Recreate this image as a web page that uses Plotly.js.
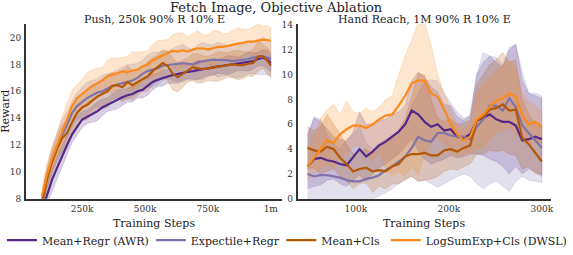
<!DOCTYPE html>
<html>
<head>
<meta charset="utf-8">
<script src="https://cdn.plot.ly/plotly-3.0.1.min.js"></script>
<style>html,body{margin:0;padding:0;background:#fff;}#chart{width:573px;height:255px;}</style>
</head>
<body>
<div id="chart"></div>
<script>
// ---------- Series names & colours ----------
const seriesNames = ['Mean+Regr (AWR)', 'Expectile+Regr', 'Mean+Cls', 'LogSumExp+Cls (DWSL)'];
const seriesColors = ['#542788', '#8073ac', '#b35806', '#fb8a1c'];

// ---------- Left panel: Push, 250k 90% R 10% E ----------
const pushSteps = [90000,110000,130000,150000,170000,190000,210000,230000,250000,270000,290000,310000,330000,350000,370000,390000,410000,430000,450000,470000,490000,510000,530000,550000,570000,590000,610000,630000,650000,670000,690000,710000,730000,750000,770000,790000,810000,830000,850000,870000,890000,910000,930000,950000,970000,990000,1000000];
const pushAWR = [7.1,8.2,9.4,10.3,11.2,12.0,12.8,13.4,13.9,14.1,14.3,14.5,14.8,15.0,15.2,15.4,15.55,15.7,15.8,16.0,16.1,16.4,16.7,16.85,17.0,17.1,17.2,17.3,17.4,17.45,17.5,17.6,17.65,17.7,17.8,17.85,17.9,17.95,18.0,18.05,18.1,18.2,18.25,18.4,18.5,18.3,18.1];
const pushExpectile = [7.8,9.6,10.8,11.8,12.7,13.5,14.4,14.9,15.2,15.5,15.7,15.9,16.0,16.2,16.4,16.5,16.6,16.7,16.8,17.0,17.3,17.5,17.6,17.7,17.9,17.95,18.0,18.05,18.1,18.05,18.0,18.15,18.25,18.3,18.35,18.35,18.35,18.3,18.25,18.3,18.3,18.4,18.5,18.55,18.6,18.5,18.4];
const pushCls = [7.6,9.4,10.7,11.7,12.5,12.9,13.7,14.4,14.8,15.0,15.3,15.6,15.8,16.0,16.4,16.45,16.3,16.7,16.45,16.7,16.9,17.1,17.5,17.8,18.1,17.9,17.3,17.05,17.3,17.6,17.8,17.7,17.65,17.7,17.75,17.85,17.9,17.95,18.0,17.95,17.95,18.05,18.1,18.6,18.6,18.2,17.9];
const pushDWSL = [8.2,9.8,11.0,12.0,13.0,14.0,14.9,15.5,15.8,16.1,16.4,16.6,16.8,17.1,17.2,17.35,17.5,17.4,17.55,17.6,17.85,18.0,18.3,18.5,18.7,18.85,19.0,18.95,19.05,18.95,19.1,19.2,19.2,19.1,19.2,19.3,19.3,19.4,19.45,19.55,19.6,19.7,19.7,19.8,19.85,19.8,19.75];
// band half-widths (read from the shaded areas)
const pushAWRSpread = [0.4,0.6,0.8,0.9,0.8,0.7,0.6,0.7,0.6,0.5,0.6,0.7,0.6,0.5,0.6,0.7,0.6,0.5,0.6,0.5,0.6,0.7,0.6,0.5,0.6,0.5,0.6,0.7,0.6,0.5,0.6,0.7,0.6,0.5,0.6,0.5,0.6,0.7,0.6,0.5,0.6,0.7,0.6,0.5,0.6,0.7,0.6];
const pushExpectileSpread = [0.6,0.8,1.0,1.1,1.2,1.0,0.9,1.0,1.1,1.2,1.1,1.0,1.2,1.1,1.0,1.1,1.2,1.3,1.2,1.1,1.0,1.2,1.3,1.2,1.1,1.0,1.2,1.3,1.4,1.2,1.1,1.3,1.4,1.2,1.1,1.3,1.2,1.1,1.2,1.3,1.2,1.1,1.2,1.3,1.4,1.3,1.2];
const pushClsSpread = [0.5,0.7,0.8,0.9,1.0,0.9,0.8,0.9,1.0,1.1,1.0,0.9,1.1,1.2,1.0,0.9,1.1,1.2,1.1,1.0,0.9,1.1,1.0,0.9,1.0,1.1,1.2,1.1,1.0,0.9,1.0,1.1,1.0,0.9,1.0,1.1,1.0,0.9,1.0,1.1,1.0,0.9,1.0,1.1,0.9,1.0,0.9];
const pushDWSLSpread = [0.6,0.8,0.9,1.0,1.1,1.1,1.2,1.0,1.1,1.3,1.2,1.1,1.0,1.2,1.3,1.1,1.0,1.2,1.4,1.3,1.1,1.0,1.2,1.3,1.1,1.0,1.2,1.4,1.3,1.1,1.2,1.3,1.0,1.1,1.3,1.2,1.0,0.9,1.1,1.2,1.0,0.9,1.1,1.2,1.0,1.1,1.0];
const pushTickVals = [250000, 500000, 750000, 1000000];
const pushTickText = ['250k', '500k', '750k', '1m'];
const pushYTicks = [8, 10, 12, 14, 16, 18, 20];

// ---------- Right panel: Hand Reach, 1M 90% R 10% E ----------
const reachSteps = [48000,55000,62000,69000,76000,83000,90000,97000,104000,111000,118000,125000,132000,139000,146000,153000,160000,167000,174000,181000,188000,195000,202000,209000,216000,223000,230000,237000,244000,251000,258000,265000,272000,279000,286000,293000,300000];
const reachAWR = [2.6,3.2,3.3,3.1,3.0,2.8,2.7,3.4,4.0,3.4,3.8,4.3,4.6,5.0,5.4,6.0,7.1,6.8,6.2,5.8,6.0,5.5,5.6,5.0,4.9,5.2,6.3,6.5,6.8,6.4,6.2,6.2,5.9,4.7,4.8,5.0,4.8];
const reachAWRLow = [0.8,1.0,1.1,1.5,1.6,1.2,1.0,1.5,1.9,1.4,2.0,2.5,2.8,3.2,3.6,4.2,4.8,3.9,3.2,2.8,3.0,3.2,3.5,3.3,3.4,3.6,3.6,3.5,3.2,3.0,2.6,2.0,2.6,2.0,2.4,2.2,1.8];
const reachAWRHigh = [5.2,6.5,6.2,5.6,5.0,4.8,4.6,5.4,7.0,6.0,6.0,6.3,6.4,6.8,7.0,7.5,9.5,10.2,9.8,9.0,8.6,7.6,7.5,6.6,6.3,6.8,10.0,11.0,11.5,11.0,10.6,12.0,12.5,9.5,8.5,8.3,8.1];
const reachExpectile = [2.0,1.8,1.9,1.9,1.8,1.7,1.5,1.4,1.4,1.6,1.7,1.9,2.3,2.6,3.0,3.4,4.1,5.0,4.7,4.6,5.3,5.3,5.1,5.0,5.0,4.8,5.8,6.4,7.5,7.5,7.1,8.1,7.4,5.9,5.3,4.7,4.1];
const reachExpectileLow = [0.0,0.0,0.0,0.0,0.0,0.0,0.0,0.0,0.0,0.0,0.0,0.2,0.5,0.8,1.2,1.5,1.8,1.4,1.5,1.2,0.9,1.2,1.5,1.8,2.0,1.8,1.2,0.8,1.2,1.4,1.0,0.6,1.4,1.8,1.5,1.4,1.3];
const reachExpectileHigh = [5.0,6.6,6.4,5.2,4.4,4.0,4.8,5.2,5.8,4.5,4.0,4.5,4.8,5.0,5.5,6.0,7.5,8.5,9.5,9.6,9.5,8.5,7.8,7.0,6.5,6.6,10.0,11.8,11.5,11.4,10.8,12.2,12.4,10.2,8.5,8.5,8.3];
const reachCls = [4.1,3.9,3.8,4.2,4.0,3.3,2.8,2.2,2.4,2.5,2.2,2.3,2.2,2.6,2.8,3.4,3.6,3.6,3.7,3.5,3.5,3.9,4.0,3.8,4.1,4.3,6.3,6.6,7.2,7.3,7.6,7.1,7.2,4.9,4.4,3.7,3.0];
const reachClsLow = [2.4,2.5,2.0,2.2,2.4,1.8,1.4,0.8,1.2,1.3,0.5,1.0,0.8,1.2,1.2,1.6,1.8,1.4,1.5,1.6,1.8,2.2,2.4,2.3,2.6,2.8,3.6,3.6,3.9,3.8,3.9,3.6,3.5,2.4,2.6,2.0,2.0];
const reachClsHigh = [5.8,5.5,5.8,6.8,6.0,5.2,4.4,3.6,3.8,4.0,3.6,4.0,4.6,4.8,5.5,6.5,8.2,10.1,10.0,8.0,6.5,6.2,6.4,6.0,6.1,6.3,9.2,10.0,10.8,11.2,11.8,11.0,11.2,8.0,6.8,6.0,5.8];
const reachDWSL = [2.6,3.3,4.0,4.7,4.5,5.2,5.6,5.9,5.9,5.7,6.0,6.4,6.7,6.8,7.5,8.3,9.3,9.55,9.5,8.5,8.2,7.2,6.0,5.2,4.7,5.0,6.4,6.8,7.4,7.9,8.1,8.5,8.2,6.7,6.0,6.2,5.8];
const reachDWSLLow = [1.5,2.0,2.4,2.8,2.5,3.4,3.6,4.2,4.3,3.8,3.0,3.8,2.5,1.8,2.2,1.8,2.6,1.9,3.6,4.5,5.0,4.5,3.8,3.5,3.6,3.7,4.0,4.2,4.8,5.3,5.5,5.8,5.2,4.6,4.4,4.6,4.5];
const reachDWSLHigh = [3.8,5.0,6.5,7.2,7.6,6.8,7.9,7.0,6.9,7.3,7.0,7.4,8.0,8.3,10.0,11.5,12.8,14.2,14.2,12.4,10.0,8.5,7.2,6.0,5.6,6.0,8.5,9.2,9.8,10.3,10.8,11.2,10.5,8.5,7.8,7.5,7.0];
const reachTickVals = [100000, 200000, 300000];
const reachTickText = ['100k', '200k', '300k'];
const reachYTicks = [0, 2, 4, 6, 8, 10, 12, 14];

// ---------- Build traces ----------
function rgba(hex, a) {
  const n = parseInt(hex.slice(1), 16);
  return `rgba(${(n >> 16) & 255},${(n >> 8) & 255},${n & 255},${a})`;
}
function band(x, lo, hi, color, xa, ya) {
  return {
    type: 'scatter', mode: 'lines', xaxis: xa, yaxis: ya,
    x: x.concat(x.slice().reverse()),
    y: hi.concat(lo.slice().reverse()),
    fill: 'toself', fillcolor: rgba(color, 0.22),
    line: {color: rgba(color, 0.3), width: 0.6},
    hoverinfo: 'skip', showlegend: false
  };
}
function lineTrace(x, y, color, xa, ya, name, legendId, show) {
  return {
    type: 'scatter', mode: 'lines', xaxis: xa, yaxis: ya, x: x, y: y,
    line: {color: color, width: 2.2}, name: name,
    showlegend: show, legend: legendId
  };
}
const traces = [];
const pushMeans = [pushAWR, pushExpectile, pushCls, pushDWSL];
const pushSpreads = [pushAWRSpread, pushExpectileSpread, pushClsSpread, pushDWSLSpread];
const reachMeans = [reachAWR, reachExpectile, reachCls, reachDWSL];
const reachLows = [reachAWRLow, reachExpectileLow, reachClsLow, reachDWSLLow];
const reachHighs = [reachAWRHigh, reachExpectileHigh, reachClsHigh, reachDWSLHigh];
for (let s = 0; s < 4; s++) {
  const lo = pushMeans[s].map((v, i) => v - pushSpreads[s][i]);
  const hi = pushMeans[s].map((v, i) => v + pushSpreads[s][i]);
  traces.push(band(pushSteps, lo, hi, seriesColors[s], 'x', 'y'));
  traces.push(band(reachSteps, reachLows[s], reachHighs[s], seriesColors[s], 'x2', 'y2'));
}
const legendIds = ['legend', 'legend2', 'legend3', 'legend4'];
for (let s = 0; s < 4; s++) {
  traces.push(lineTrace(pushSteps, pushMeans[s], seriesColors[s], 'x', 'y', seriesNames[s], legendIds[s], true));
  traces.push(lineTrace(reachSteps, reachMeans[s], seriesColors[s], 'x2', 'y2', seriesNames[s], legendIds[s], false));
}

// ---------- Layout ----------
const W = 573, H = 255;
const serif = 'DejaVu Serif, serif';
const axisCommon = {
  showgrid: false, zeroline: false, showline: true, linecolor: '#333', linewidth: 2,
  ticks: '', tickfont: {family: serif, size: 9, color: '#333'}, fixedrange: true
};
const yDom = [1 - 206 / H, 1 - 25 / H];
function legendAt(px) {
  return {orientation: 'h', x: px / W, xanchor: 'left', y: 1 - 249 / H, yanchor: 'middle',
    font: {family: serif, size: 11, color: '#222'}, bgcolor: 'rgba(0,0,0,0)', borderwidth: 0,
    tracegroupgap: 0, itemwidth: 30};
}
const layout = {
  width: W, height: H, margin: {l: 0, r: 0, t: 0, b: 0},
  paper_bgcolor: '#fff', plot_bgcolor: '#fff', showlegend: true,
  xaxis: Object.assign({}, axisCommon, {domain: [27 / W, 292 / W], range: [27000, 1046000],
    tickvals: pushTickVals, ticktext: pushTickText, anchor: 'y'}),
  yaxis: Object.assign({}, axisCommon, {domain: yDom, range: [8, 21], tickvals: pushYTicks, anchor: 'x', ticklabelstandoff: 1}),
  xaxis2: Object.assign({}, axisCommon, {domain: [308 / W, 570 / W], range: [37500, 310000],
    tickvals: reachTickVals, ticktext: reachTickText, anchor: 'y2'}),
  yaxis2: Object.assign({}, axisCommon, {domain: yDom, range: [0, 14 * 181 / 180], tickvals: reachYTicks, anchor: 'x2', ticklabelstandoff: 1}),
  legend: legendAt(2),
  legend2: legendAt(156),
  legend3: legendAt(291),
  legend4: legendAt(399),
  annotations: [
    {text: 'Fetch Image, Objective Ablation', x: 286 / W, y: 1 - 8 / H, xref: 'paper', yref: 'paper',
      xanchor: 'center', yanchor: 'middle', showarrow: false, font: {family: serif, size: 13, color: '#222'}},
    {text: 'Push, 250k 90% R 10% E', x: 160 / W, y: 1 - 20 / H, xref: 'paper', yref: 'paper',
      xanchor: 'center', yanchor: 'middle', showarrow: false, font: {family: serif, size: 11, color: '#222'}},
    {text: 'Hand Reach, 1M 90% R 10% E', x: 439 / W, y: 1 - 20 / H, xref: 'paper', yref: 'paper',
      xanchor: 'center', yanchor: 'middle', showarrow: false, font: {family: serif, size: 11, color: '#222'}},
    {text: 'Training Steps', x: 159 / W, y: 1 - 232 / H, xref: 'paper', yref: 'paper',
      xanchor: 'center', yanchor: 'middle', showarrow: false, font: {family: serif, size: 11, color: '#222'}},
    {text: 'Training Steps', x: 439 / W, y: 1 - 232 / H, xref: 'paper', yref: 'paper',
      xanchor: 'center', yanchor: 'middle', showarrow: false, font: {family: serif, size: 11, color: '#222'}},
    {text: 'Reward', x: 6 / W, y: 1 - 115 / H, xref: 'paper', yref: 'paper', textangle: -90,
      xanchor: 'center', yanchor: 'middle', showarrow: false, font: {family: serif, size: 11, color: '#222'}}
  ]
};
Plotly.newPlot('chart', traces, layout, {staticPlot: true, displayModeBar: false});
</script>
</body>
</html>
